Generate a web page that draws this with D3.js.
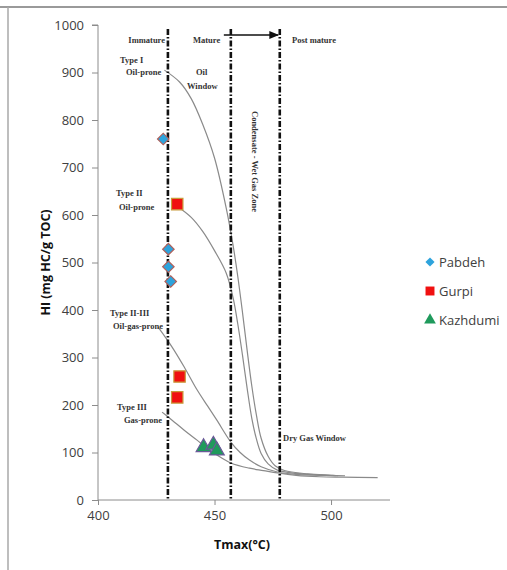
<!DOCTYPE html>
<html>
<head>
<meta charset="utf-8">
<script src="https://cdn.jsdelivr.net/npm/d3@7/dist/d3.min.js"></script>
<style>
  html, body { margin: 0; padding: 0; background: #fff; }
  svg { display: block; }
  .tick text { font-family: "Open Sans", "Noto Sans", sans-serif; }
</style>
</head>
<body>
<svg id="chart" width="507" height="570"></svg>
<script>
// Samples: Tmax (°C) and hydrogen index (mg HC/g TOC)
const pabdehTmax = [428, 430.2, 430.2, 431.2];
const pabdehHI   = [760, 528, 491, 460];
const gurpiTmax  = [434, 435, 434];
const gurpiHI    = [623, 260, 216];
const kazhTmax   = [445.3, 449.5, 451];
const kazhHI     = [111, 116, 104];

// Kerogen type maturation paths
const type1Tmax  = [428.5, 435, 440, 445, 450, 455, 458, 460, 462, 464, 466, 468, 470, 473, 476, 480, 490, 500, 503];
const type1HI    = [905, 880, 845, 790, 720, 615, 535, 470, 395, 315, 240, 178, 130, 92, 72, 62, 55, 52, 51];
const type2Tmax  = [433.5, 440, 445, 450, 455, 458, 460, 462, 464, 466, 468, 470, 473, 477, 485, 495, 506];
const type2HI    = [620, 595, 565, 525, 478, 425, 370, 305, 235, 172, 128, 98, 76, 63, 56, 53, 51];
const type23Tmax = [425.8, 431.8, 437, 442.5, 447, 451, 457, 461, 465, 470, 477, 485, 495, 502];
const type23HI   = [364, 322, 280, 232, 198, 168, 122, 100, 84, 70, 59, 54, 52, 51];
const type3Tmax  = [427.5, 431.8, 437, 442.5, 447, 451, 457, 465, 471, 477, 485, 495, 505, 520];
const type3HI    = [185, 168, 147, 126, 108, 95, 78, 67, 62, 57, 52, 49, 48, 47];

// Maturity boundaries (Tmax °C)
const boundaries = [430, 457, 478];

const xTicks = [400, 450, 500];
const yTicks = [0, 100, 200, 300, 400, 500, 600, 700, 800, 900, 1000];

const seriesNames = ["Pabdeh", "Gurpi", "Kazhdumi"];

const svg = d3.select("#chart");

// outer frame
svg.append("line").attr("x1", 0).attr("x2", 507).attr("y1", 7).attr("y2", 7)
  .attr("stroke", "#9a9a9a").attr("stroke-width", 2);
svg.append("line").attr("x1", 8).attr("x2", 8).attr("y1", 7).attr("y2", 570)
  .attr("stroke", "#a8a8a8").attr("stroke-width", 1.5);

const x = d3.scaleLinear().domain([400, 525.3]).range([98, 390]);
const y = d3.scaleLinear().domain([0, 1000]).range([500, 25]);

const tickFont = "'Open Sans', 'Noto Sans', sans-serif";

// y axis
const yAxis = svg.append("g").attr("transform", `translate(${x(400)},0)`)
  .call(d3.axisLeft(y).tickValues(yTicks).tickSize(6).tickPadding(8).tickFormat(d3.format("d")));
yAxis.select(".domain").attr("stroke", "#8c8c8c").attr("d", `M-6,${y(1000)}H0V${y(0)}`);
yAxis.selectAll(".tick line").attr("stroke", "#8c8c8c");
yAxis.selectAll(".tick text").attr("fill", "#404040").style("font-size", "13px");

// x axis
const xAxis = svg.append("g").attr("transform", `translate(0,${y(0)})`)
  .call(d3.axisBottom(x).tickValues(xTicks).tickSize(5).tickPadding(6));
xAxis.select(".domain").attr("stroke", "#8c8c8c").attr("d", `M${x(400)},0H${x(525.3)}`);
xAxis.selectAll(".tick line").attr("stroke", "#8c8c8c");
xAxis.selectAll(".tick text").attr("fill", "#404040").style("font-size", "13px");

// axis titles
svg.append("text").attr("transform", `translate(50,${y(500)}) rotate(-90)`)
  .attr("text-anchor", "middle").style("font-family", tickFont).style("font-weight", "bold")
  .style("font-size", "12.5px").attr("fill", "#111").text("HI (mg HC/g TOC)");
svg.append("text").attr("x", 242).attr("y", 549).attr("text-anchor", "middle")
  .style("font-family", tickFont).style("font-weight", "bold").style("font-size", "12.5px")
  .attr("fill", "#111").text("Tmax(°C)");

// kerogen type curves
const line = d3.line().x(d => x(d[0])).y(d => y(d[1])).curve(d3.curveCatmullRom.alpha(0.5));
[[type1Tmax, type1HI], [type2Tmax, type2HI], [type23Tmax, type23HI], [type3Tmax, type3HI]]
  .forEach(([tx, hi]) => {
    svg.append("path").datum(tx.map((t, i) => [t, hi[i]])).attr("d", line)
      .attr("fill", "none").attr("stroke", "#8a8a8a").attr("stroke-width", 1.2);
  });

// maturity boundaries
boundaries.forEach(b => {
  svg.append("line").attr("x1", x(b)).attr("x2", x(b)).attr("y1", 29).attr("y2", y(0))
    .attr("stroke", "#111").attr("stroke-width", 2.6).attr("stroke-dasharray", "6,2,1.5,2");
});

// arrow from mature to post mature
svg.append("defs").append("marker").attr("id", "arrow").attr("viewBox", "0 0 10 10")
  .attr("refX", 9).attr("refY", 5).attr("markerWidth", 7).attr("markerHeight", 7)
  .attr("orient", "auto").append("path").attr("d", "M0,1L10,5L0,9Z").attr("fill", "#111");
svg.append("line").attr("x1", x(454)).attr("x2", x(477.3)).attr("y1", 35).attr("y2", 35)
  .attr("stroke", "#111").attr("stroke-width", 1.4).attr("marker-end", "url(#arrow)");

// annotations
const serif = "'Liberation Serif', 'DejaVu Serif', serif";
const notes = [
  ["Immature", 165, 43, "end"], ["Mature", 193, 43, "start"], ["Post mature", 292, 43, "start"],
  ["Type I", 120, 63, "start"], ["Oil-prone", 126, 75, "start"],
  ["Oil", 196, 75, "start"], ["Window", 187, 89, "start"],
  ["Type II", 116, 196, "start"], ["Oil-prone", 119, 210, "start"],
  ["Type II-III", 110, 316, "start"], ["Oil-gas-prone", 113, 329, "start"],
  ["Type III", 117, 410, "start"], ["Gas-prone", 124, 423, "start"],
  ["Dry Gas Window", 283, 441, "start"]
];
notes.forEach(([t, px, py, a]) => {
  svg.append("text").attr("x", px).attr("y", py).attr("text-anchor", a)
    .style("font-family", serif).style("font-size", "8.5px").style("font-weight", "bold")
    .attr("fill", "#333").text(t);
});
svg.append("text").attr("transform", "translate(252,111) rotate(90)")
  .style("font-family", serif).style("font-size", "8.5px").style("font-weight", "bold")
  .attr("fill", "#333").text("Condensate - Wet Gas Zone");

// markers (diamond = square turned 45°)
const sym = {
  Pabdeh: { type: d3.symbolSquare, size: 66, rot: 45, fill: "#2ea3dc", stroke: "#b0605a" },
  Gurpi: { type: d3.symbolSquare, size: 130, rot: 0, fill: "#f01010", stroke: "#c89a3a" },
  Kazhdumi: { type: d3.symbolTriangle, size: 95, rot: 0, fill: "#1f9a5c", stroke: "#6a5a98" }
};
const seriesData = {
  Pabdeh: pabdehTmax.map((t, i) => [t, pabdehHI[i]]),
  Gurpi: gurpiTmax.map((t, i) => [t, gurpiHI[i]]),
  Kazhdumi: kazhTmax.map((t, i) => [t, kazhHI[i]])
};
seriesNames.forEach(name => {
  const s = sym[name];
  svg.append("g").selectAll("path").data(seriesData[name]).join("path")
    .attr("transform", d => `translate(${x(d[0])},${y(d[1])}) rotate(${s.rot})`)
    .attr("d", d3.symbol().type(s.type).size(s.size))
    .attr("fill", s.fill).attr("stroke", s.stroke).attr("stroke-width", 1.2);
});

// legend
const legend = svg.append("g");
seriesNames.forEach((name, i) => {
  const s = sym[name];
  const ly = 262 + i * 29;
  legend.append("path").attr("transform", `translate(430,${ly}) rotate(${s.rot})`)
    .attr("d", d3.symbol().type(s.type).size(name === "Gurpi" ? 80 : (name === "Pabdeh" ? 42 : 60)))
    .attr("fill", s.fill);
  legend.append("text").attr("x", 439).attr("y", ly + 5)
    .style("font-family", tickFont).style("font-size", "13px").attr("fill", "#404040").text(name);
});
</script>
</body>
</html>
